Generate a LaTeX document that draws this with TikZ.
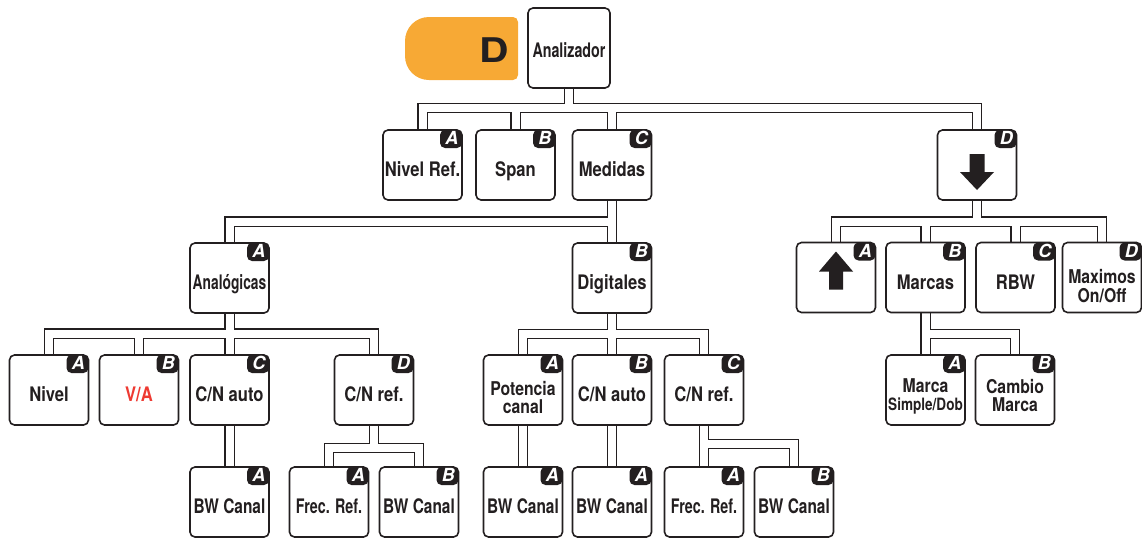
\documentclass[tikz,border=0pt]{standalone}
\usepackage{fontspec}
\usepackage{graphicx}
\setmainfont{TeX Gyre Heros}[FakeStretch=0.83]
\newfontfamily\tabfont{TeX Gyre Heros}
\definecolor{ink}{HTML}{231F20}
\definecolor{tabor}{HTML}{F7A935}
\definecolor{alert}{HTML}{EE3A32}
\pgfdeclarelayer{tubes}
\pgfsetlayers{tubes,main}

\newcommand\sqz[2]{\scalebox{#1}[1]{#2}}

\tikzset{
  plainbox/.style={draw=ink, line width=1.6pt, fill=white, rounded corners=5pt,
    minimum width=79pt, minimum height=70pt, inner sep=0pt},
  boxsh/.style={plainbox,
    path picture={\fill[ink] ([xshift=-22pt]path picture bounding box.north east)
      rectangle ([yshift=-18pt]path picture bounding box.north east);}},
  tabl/.style={font=\tabfont\bfseries\itshape\fontsize{18}{18}\selectfont,
    text=white, inner sep=0pt, text height=12.9pt, text depth=0pt},
  lbl/.style={font=\bfseries\fontsize{20}{17}\selectfont, text=ink,
    inner sep=0pt, text height=14.4pt, text depth=0pt},
  lblm/.style={font=\bfseries\fontsize{19}{18.5}\selectfont, text=ink,
    inner sep=0pt, align=center},
  tubeout/.style={draw=ink, line width=10.8pt, line join=miter},
  tubein/.style={draw=white, line width=8pt, line join=miter},
}

% box with a corner letter tab and a caption
\newcommand\mkbox[6]{%
  \node[boxsh] (#1) at (#2,#3) {};
  \node[tabl] (#1-tab) at ([shift={(-11pt,-9pt)}]#1.north east) {#4};
  \node[#5] (#1-txt) at ([yshift=-4.5pt]#1.center) {#6};
}

% double-walled connectors of the menu tree
\newcommand\tubepaths[1]{%
  \draw[#1] (analizador.south) -- (analizador.south |- 0,108) -| (nivelref.north);
  \draw[#1] (analizador.south |- 0,108) -| (span.north);
  \draw[#1] (analizador.south |- 0,108) -| (medidas.north);
  \draw[#1] (analizador.south |- 0,108) -| (down.north);
  \draw[#1] (medidas.south) -- (digit.north);
  \draw[#1] (medidas.south |- 0,221.5) -| (analog.north);
  \draw[#1] (down.south) -- (down.south |- 0,221.5) -| (up.north);
  \draw[#1] (down.south |- 0,221.5) -| (marcas.north);
  \draw[#1] (down.south |- 0,221.5) -| (rbw.north);
  \draw[#1] (down.south |- 0,221.5) -| (maximos.north);
  \draw[#1] (analog.south) -- (cnauto.north);
  \draw[#1] (analog.south |- 0,333.5) -| (nivel.north);
  \draw[#1] (analog.south |- 0,333.5) -| (va.north);
  \draw[#1] (analog.south |- 0,333.5) -| (cnref.north);
  \draw[#1] (cnauto.south) -- (bwc1.north);
  \draw[#1] (cnref.south) -- (cnref.south |- 0,448) -| (frec1.north);
  \draw[#1] (cnref.south |- 0,448) -| (bwc2.north);
  \draw[#1] (digit.south) -- (cnauto2.north);
  \draw[#1] (digit.south |- 0,334) -| (potencia.north);
  \draw[#1] (digit.south |- 0,334) -| (cnref2.north);
  \draw[#1] (potencia.south) -- (bwc3.north);
  \draw[#1] (cnauto2.south) -- (bwc4.north);
  \draw[#1] (cnref2.south) -- (frec2.north);
  \draw[#1] (cnref2.south |- 0,444) -| (bwc5.north);
  \draw[#1] (marcas.south) -- (marca.north);
  \draw[#1] (marcas.south |- 0,334) -| (cambio.north);
}

\begin{document}
\begin{tikzpicture}[x=1pt,y=-1pt]
\useasboundingbox (0,0) rectangle (1142,538);

% orange key tab: large rounding on the left, small on the right
\fill[tabor] (429,17) -- (513,17) .. controls (515.8,17) and (518,19.2) .. (518,22)
  -- (518,75) .. controls (518,77.8) and (515.8,80) .. (513,80)
  -- (429,80) .. controls (415.7,80) and (405,69.3) .. (405,56)
  -- (405,41) .. controls (405,27.7) and (415.7,17) .. (429,17) -- cycle;
\node[font=\tabfont\bfseries\fontsize{34}{34}\selectfont, text=ink, inner sep=0pt,
  text height=24.4pt, text depth=0pt] (keyd) at (494.5,50) {\scalebox{1.2}[1]{D}};

% root
\node[plainbox, minimum width=82pt, minimum height=80pt] (analizador) at (569,48) {};
\node[lbl] (analizador-txt) at ([yshift=-2pt]analizador.center) {\sqz{0.86}{Analizador}};

% first level
\mkbox{nivelref}{422.5}{165}{A}{lbl}{Nivel Ref.}
\mkbox{span}{515.5}{165}{B}{lbl}{Span}
\mkbox{medidas}{612}{165}{C}{lbl}{Medidas}
\mkbox{down}{977}{165}{D}{lbl}{}

% second level
\mkbox{analog}{229.5}{278}{A}{lbl}{\sqz{0.83}{Analógicas}}
\mkbox{digit}{612}{278}{B}{lbl}{Digitales}
\mkbox{up}{836}{277.5}{A}{lbl}{}
\mkbox{marcas}{925.5}{277.5}{B}{lbl}{Marcas}
\mkbox{rbw}{1015.5}{277.5}{C}{lbl}{RBW}
\mkbox{maximos}{1102}{277.5}{D}{lblm, yshift=-4pt}{Maximos\\On/Off}

% third level
\mkbox{nivel}{49}{390}{A}{lbl}{Nivel}
\mkbox{va}{139}{390}{B}{lbl, text=alert}{V/A}
\mkbox{cnauto}{229.5}{390}{C}{lbl}{C/N auto}
\mkbox{cnref}{374}{390}{D}{lbl}{C/N ref.}
\mkbox{potencia}{523}{390}{A}{lblm, yshift=-3pt}{Potencia\\canal}
\mkbox{cnauto2}{612}{390}{B}{lbl}{C/N auto}
\mkbox{cnref2}{704}{390}{C}{lbl}{C/N ref.}
\mkbox{marca}{925.5}{390}{A}{lblm, yshift=-2pt}{Marca\\{\fontsize{17}{17}\selectfont\sqz{0.96}{Simple/Dob}}}
\mkbox{cambio}{1015}{390}{B}{lblm, yshift=-1pt}{Cambio\\Marca}

% fourth level
\mkbox{bwc1}{229.5}{502}{A}{lbl}{\sqz{0.93}{BW Canal}}
\mkbox{frec1}{329}{502}{A}{lbl}{\sqz{0.86}{Frec. Ref.}}
\mkbox{bwc2}{419}{502}{B}{lbl}{\sqz{0.93}{BW Canal}}
\mkbox{bwc3}{523}{502}{A}{lbl}{\sqz{0.93}{BW Canal}}
\mkbox{bwc4}{612}{502}{A}{lbl}{\sqz{0.93}{BW Canal}}
\mkbox{frec2}{704}{502}{A}{lbl}{\sqz{0.86}{Frec. Ref.}}
\mkbox{bwc5}{794}{502}{B}{lbl}{\sqz{0.93}{BW Canal}}

% arrow keys
\begin{scope}[shift={(down.center)}]
  \fill[ink] (-7.5,-11) -- (7.5,-11) -- (7.5,7) -- (17,7) -- (0,25) -- (-17,7) -- (-7.5,7) -- cycle;
\end{scope}
\begin{scope}[shift={(up.center)}]
  \fill[ink] (-7,12) -- (7,12) -- (7,-6) -- (17,-6) -- (0,-26) -- (-17,-6) -- (-7,-6) -- cycle;
\end{scope}

% connectors underneath the boxes
\begin{pgfonlayer}{tubes}
  \tubepaths{tubeout}
  \tubepaths{tubein}
\end{pgfonlayer}
\end{tikzpicture}
\end{document}
